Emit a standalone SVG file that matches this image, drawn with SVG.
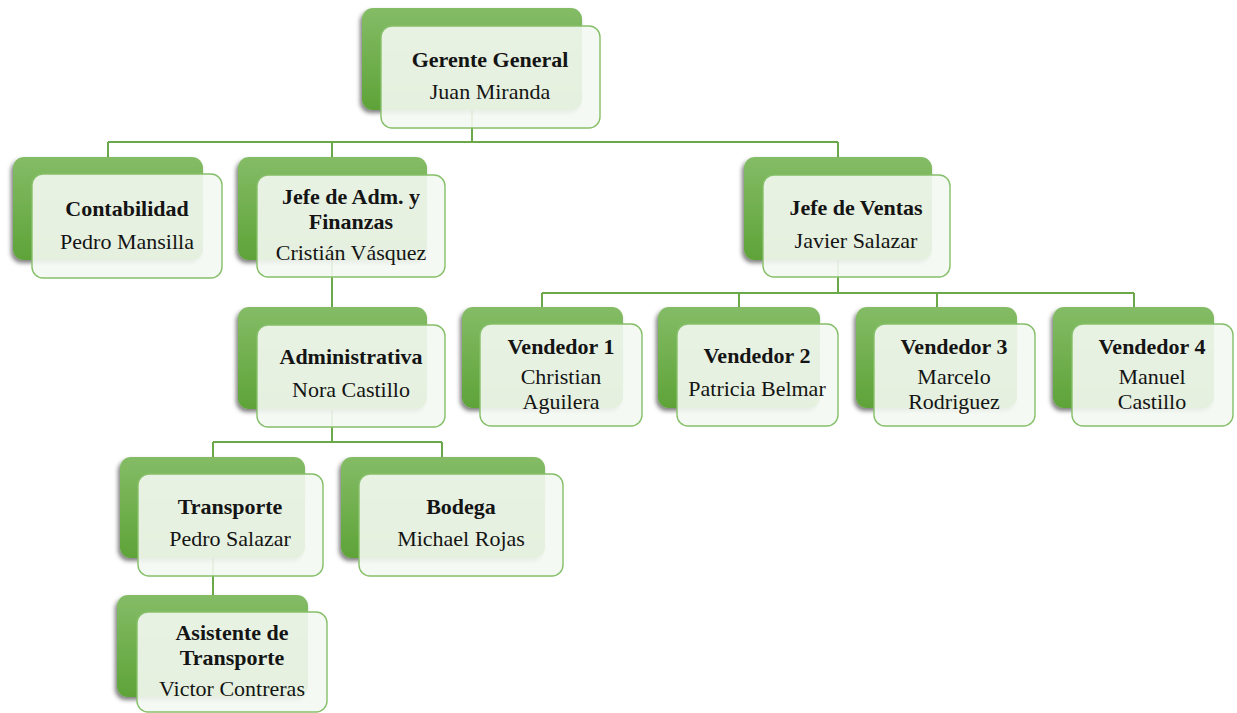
<svg xmlns="http://www.w3.org/2000/svg" width="1237" height="713" viewBox="0 0 1237 713">
  <defs>
    <linearGradient id="gBack" x1="0" y1="0" x2="0" y2="1">
      <stop offset="0" stop-color="#84bc66"/>
      <stop offset="1" stop-color="#5ea338"/>
    </linearGradient>
    <filter id="shadow" x="-10%" y="-10%" width="120%" height="130%">
      <feDropShadow dx="-2" dy="3" stdDeviation="2.2" flood-color="#000" flood-opacity="0.5"/>
    </filter>
    <style>
      .back { fill: url(#gBack); filter: url(#shadow); }
      .front { fill: #f4f8f2; fill-opacity: 0.9; stroke: #86bf69; stroke-width: 1.4; }
      .conn { fill: none; stroke: #6aa84a; stroke-width: 2; }
      text { font-family: "Liberation Serif", "Times New Roman", serif; font-size: 22px; fill: #141414; text-anchor: middle; }
      .t { font-weight: bold; }
    </style>
  </defs>

  <rect width="1237" height="713" fill="#ffffff"/>

  <!-- reporting lines -->
  <g id="connectors">
    <path class="conn" d="M472 110 V142 M108 142 H838 M108 142 V157 M332 142 V157 M838 142 V157"/>
    <path class="conn" d="M332 260 V307"/>
    <path class="conn" d="M838 260 V293 M542 293 H1134 M542 293 V307 M739 293 V307 M937 293 V307 M1134 293 V307"/>
    <path class="conn" d="M332 410 V442 M213 442 H442 M213 442 V457 M442 442 V457"/>
    <path class="conn" d="M213 558 V595"/>
  </g>

  <g id="gerente-general">
    <rect class="back" x="362" y="8" width="220" height="102" rx="11"/>
    <rect class="front" x="381" y="26" width="219" height="102" rx="11"/>
    <text class="t" x="490" y="67">Gerente General</text>
    <text x="490" y="99">Juan Miranda</text>
  </g>

  <g id="contabilidad">
    <rect class="back" x="13" y="157" width="190" height="103" rx="11"/>
    <rect class="front" x="32" y="174" width="190" height="104" rx="11"/>
    <text class="t" x="127" y="216">Contabilidad</text>
    <text x="127" y="249">Pedro Mansilla</text>
  </g>

  <g id="jefe-adm-finanzas">
    <rect class="back" x="238" y="157" width="189" height="103" rx="11"/>
    <rect class="front" x="257" y="175" width="188" height="102" rx="11"/>
    <text class="t" x="351" y="204">Jefe de Adm. y</text>
    <text class="t" x="351" y="229">Finanzas</text>
    <text x="351" y="260">Cristián Vásquez</text>
  </g>

  <g id="jefe-ventas">
    <rect class="back" x="744" y="157" width="188" height="103" rx="11"/>
    <rect class="front" x="763" y="175" width="187" height="102" rx="11"/>
    <text class="t" x="856" y="215">Jefe de Ventas</text>
    <text x="856" y="248">Javier Salazar</text>
  </g>

  <g id="administrativa">
    <rect class="back" x="238" y="307" width="189" height="102" rx="11"/>
    <rect class="front" x="257" y="325" width="188" height="102" rx="11"/>
    <text class="t" x="351" y="364">Administrativa</text>
    <text x="351" y="397">Nora Castillo</text>
  </g>

  <g id="vendedor-1">
    <rect class="back" x="462" y="307" width="161" height="101" rx="11"/>
    <rect class="front" x="480" y="324" width="162" height="102" rx="11"/>
    <text class="t" x="561" y="354">Vendedor 1</text>
    <text x="561" y="384">Christian</text>
    <text x="561" y="409">Aguilera</text>
  </g>

  <g id="vendedor-2">
    <rect class="back" x="658" y="307" width="162" height="101" rx="11"/>
    <rect class="front" x="677" y="324" width="161" height="102" rx="11"/>
    <text class="t" x="757" y="363">Vendedor 2</text>
    <text x="757" y="396">Patricia Belmar</text>
  </g>

  <g id="vendedor-3">
    <rect class="back" x="856" y="307" width="161" height="101" rx="11"/>
    <rect class="front" x="874" y="324" width="161" height="102" rx="11"/>
    <text class="t" x="954" y="354">Vendedor 3</text>
    <text x="954" y="384">Marcelo</text>
    <text x="954" y="409">Rodriguez</text>
  </g>

  <g id="vendedor-4">
    <rect class="back" x="1053" y="307" width="161" height="101" rx="11"/>
    <rect class="front" x="1072" y="324" width="161" height="102" rx="11"/>
    <text class="t" x="1152" y="354">Vendedor 4</text>
    <text x="1152" y="384">Manuel</text>
    <text x="1152" y="409">Castillo</text>
  </g>

  <g id="transporte">
    <rect class="back" x="120" y="457" width="185" height="101" rx="11"/>
    <rect class="front" x="138" y="474" width="185" height="102" rx="11"/>
    <text class="t" x="230" y="514">Transporte</text>
    <text x="230" y="546">Pedro Salazar</text>
  </g>

  <g id="bodega">
    <rect class="back" x="341" y="457" width="204" height="101" rx="11"/>
    <rect class="front" x="359" y="474" width="204" height="102" rx="11"/>
    <text class="t" x="461" y="514">Bodega</text>
    <text x="461" y="546">Michael Rojas</text>
  </g>

  <g id="asistente-transporte">
    <rect class="back" x="117" y="595" width="191" height="102" rx="11"/>
    <rect class="front" x="137" y="612" width="190" height="100" rx="11"/>
    <text class="t" x="232" y="640">Asistente de</text>
    <text class="t" x="232" y="665">Transporte</text>
    <text x="232" y="696">Victor Contreras</text>
  </g>
</svg>
